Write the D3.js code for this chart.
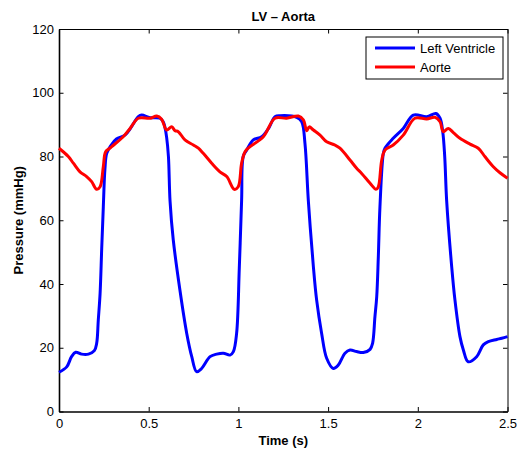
<!DOCTYPE html>
<html>
<head>
<meta charset="utf-8">
<script src="https://cdn.jsdelivr.net/npm/d3@7"></script>
<style>
  body { margin: 0; background: #fff; }
  svg { font-family: "Liberation Sans", Arial, Helvetica, sans-serif; }
</style>
</head>
<body>
<div id="chart-area"></div>
<script>
// data
const lvTime = [0, 0.043, 0.07, 0.093, 0.126, 0.164, 0.197, 0.21, 0.219, 0.229, 0.238, 0.247, 0.256, 0.266, 0.29, 0.32, 0.368, 0.4, 0.442, 0.461, 0.507, 0.563, 0.58, 0.59, 0.6, 0.61, 0.619, 0.637, 0.674, 0.712, 0.74, 0.767, 0.795, 0.842, 0.879, 0.916, 0.953, 0.972, 0.99, 1.005, 1.018, 1.027, 1.046, 1.083, 1.13, 1.17, 1.204, 1.232, 1.325, 1.353, 1.371, 1.39, 1.418, 1.436, 1.464, 1.492, 1.529, 1.557, 1.594, 1.622, 1.659, 1.696, 1.734, 1.748, 1.761, 1.771, 1.78, 1.789, 1.808, 1.817, 1.863, 1.919, 1.975, 2.05, 2.101, 2.124, 2.139, 2.15, 2.161, 2.189, 2.207, 2.235, 2.254, 2.281, 2.328, 2.365, 2.393, 2.44, 2.468, 2.5]
const lvPressure = [12.3, 14, 17.2, 18.6, 18, 18, 19.1, 21.4, 28.7, 37, 51, 64.2, 76, 81, 83.5, 85.5, 86.7, 89, 92.5, 93, 92.2, 92, 91, 89.3, 86, 80, 66, 53.8, 38.1, 24.5, 17.2, 12.5, 13.5, 17.2, 18, 18.3, 17.7, 18.8, 24.5, 45, 66.4, 80, 82, 85.2, 86.2, 89, 92.5, 92.8, 92.3, 90.9, 84.1, 66, 45.4, 35, 24.5, 16.7, 13.5, 14.6, 18.3, 19.3, 18.8, 18.5, 19.5, 21.4, 29.7, 36, 48.6, 64.2, 81, 82.6, 85.7, 88.8, 93, 92.5, 93.5, 92, 87.8, 80, 66, 45.4, 35, 23.5, 19.3, 15.6, 17.2, 20.9, 21.9, 22.6, 23, 23.5]

const aoTime = [0, 0.052, 0.08, 0.117, 0.154, 0.182, 0.21, 0.229, 0.247, 0.26, 0.284, 0.294, 0.358, 0.396, 0.442, 0.507, 0.545, 0.572, 0.6, 0.628, 0.647, 0.665, 0.702, 0.749, 0.777, 0.804, 0.851, 0.897, 0.935, 0.977, 0.999, 1.018, 1.037, 1.065, 1.139, 1.204, 1.269, 1.334, 1.362, 1.381, 1.395, 1.418, 1.455, 1.492, 1.538, 1.566, 1.622, 1.659, 1.687, 1.734, 1.767, 1.78, 1.799, 1.817, 1.863, 1.919, 1.984, 2.05, 2.096, 2.124, 2.142, 2.17, 2.198, 2.235, 2.291, 2.337, 2.375, 2.421, 2.458, 2.5]
const aoPressure = [82.6, 80, 77.9, 75.2, 73.7, 72.1, 69.7, 70.5, 76.8, 81.5, 82.6, 83.1, 86.2, 88.8, 92, 92, 92.7, 91.7, 88.3, 89.3, 88.1, 87.8, 85.2, 83.6, 82.6, 81, 77.9, 75.2, 73.7, 69.7, 70.5, 77.9, 81.5, 83.1, 86.2, 92, 92, 92.7, 91.5, 88.1, 89.3, 88.3, 86.7, 84.6, 83.6, 82.6, 78.9, 76.3, 74.7, 71.6, 69.7, 70.5, 78.9, 82, 83.6, 86.7, 92, 91.8, 92.3, 90.9, 87.8, 88.8, 87.5, 85.7, 83.9, 82.6, 79.9, 76.8, 74.9, 73.2]

const xTicks = [0, 0.5, 1, 1.5, 2, 2.5]
const yTicks = [0, 20, 40, 60, 80, 100, 120]
const seriesNames = ["Left Ventricle", "Aorte"]
const seriesColors = ["#0000ff", "#ff0000"]

const MARGIN = { LEFT: 59, RIGHT: 10.5, TOP: 29, BOTTOM: 40.5 }
const WIDTH = 518 - MARGIN.LEFT - MARGIN.RIGHT
const HEIGHT = 452 - MARGIN.TOP - MARGIN.BOTTOM
const TICK = 4.5

const svg = d3.select("#chart-area").append("svg")
    .attr("width", 518)
    .attr("height", 452)

const g = svg.append("g")
    .attr("transform", `translate(${MARGIN.LEFT}, ${MARGIN.TOP})`)

// Scales
const x = d3.scaleLinear()
    .range([0, WIDTH])
    .domain([0, 2.5])

const y = d3.scaleLinear()
    .range([HEIGHT, 0])
    .domain([0, 120])

// Axes (box with inward ticks)
const xAxisCall = d3.axisBottom(x)
    .tickValues(xTicks)
    .tickFormat(d3.format("~g"))
    .tickSizeInner(-TICK)
    .tickSizeOuter(0)
    .tickPadding(7)
const yAxisCall = d3.axisLeft(y)
    .tickValues(yTicks)
    .tickSizeInner(-TICK)
    .tickSizeOuter(0)
    .tickPadding(5)

const xAxis = g.append("g")
    .attr("transform", `translate(0, ${HEIGHT})`)
    .call(xAxisCall)
const yAxis = g.append("g")
    .call(yAxisCall)
const xTop = g.append("g")
    .call(d3.axisTop(x).tickValues(xTicks).tickFormat("").tickSizeInner(-TICK).tickSizeOuter(0))
const yRight = g.append("g")
    .attr("transform", `translate(${WIDTH}, 0)`)
    .call(d3.axisRight(y).tickValues(yTicks).tickFormat("").tickSizeInner(-TICK).tickSizeOuter(0))

g.selectAll(".domain").attr("stroke", "#000").attr("stroke-width", 1)
xAxis.select(".domain").attr("stroke-width", 1.6)
yAxis.select(".domain").attr("stroke-width", 1.6)
g.selectAll(".tick line").attr("stroke", "#000")
g.selectAll(".tick text")
    .attr("fill", "#000")
    .attr("font-size", "13px")
    .attr("font-family", "'Liberation Sans', Arial, sans-serif")

// Lines
const lineGen = d3.line()
    .x(d => x(d[0]))
    .y(d => y(d[1]))
    .curve(d3.curveCatmullRom.alpha(0.5))

const lvData = d3.zip(lvTime, lvPressure)
const aoData = d3.zip(aoTime, aoPressure)

g.append("path")
    .datum(lvData)
    .attr("fill", "none")
    .attr("stroke", seriesColors[0])
    .attr("stroke-width", 3)
    .attr("stroke-linejoin", "round")
    .attr("d", lineGen)

g.append("path")
    .datum(aoData)
    .attr("fill", "none")
    .attr("stroke", seriesColors[1])
    .attr("stroke-width", 3)
    .attr("stroke-linejoin", "round")
    .attr("d", lineGen)

// Labels
svg.append("text")
    .attr("x", MARGIN.LEFT + WIDTH / 2)
    .attr("y", 20.5)
    .attr("font-size", "13px")
    .attr("font-weight", "bold")
    .attr("text-anchor", "middle")
    .text("LV \u2013 Aorta")

svg.append("text")
    .attr("x", MARGIN.LEFT + WIDTH / 2)
    .attr("y", 444.5)
    .attr("font-size", "13px")
    .attr("font-weight", "bold")
    .attr("text-anchor", "middle")
    .text("Time (s)")

svg.append("text")
    .attr("transform", "rotate(-90)")
    .attr("x", -(MARGIN.TOP + HEIGHT / 2))
    .attr("y", 23)
    .attr("font-size", "13px")
    .attr("font-weight", "bold")
    .attr("text-anchor", "middle")
    .text("Pressure (mmHg)")

// Legend
const legend = svg.append("g")
    .attr("transform", "translate(366, 37)")
legend.append("rect")
    .attr("width", 137)
    .attr("height", 42)
    .attr("fill", "#fff")
    .attr("stroke", "#000")
    .attr("stroke-width", 1)
seriesNames.forEach((name, i) => {
    legend.append("line")
        .attr("x1", 9)
        .attr("x2", 49)
        .attr("y1", 11 + i * 19)
        .attr("y2", 11 + i * 19)
        .attr("stroke", seriesColors[i])
        .attr("stroke-width", 3)
    legend.append("text")
        .attr("x", 54)
        .attr("y", 15.5 + i * 19)
        .attr("font-size", "13px")
        .text(name)
})
</script>
</body>
</html>
